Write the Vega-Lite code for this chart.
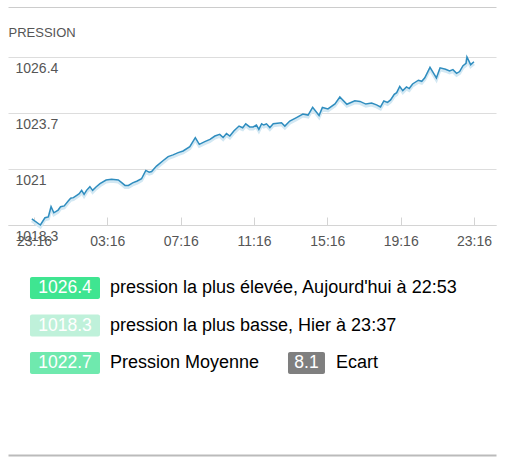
{
  "$schema": "https://vega.github.io/schema/vega-lite/v6.json",
  "background": "white",
  "padding": {"top": 7, "left": 8, "right": 16, "bottom": 5},
  "config": {"font": "Liberation Sans", "view": {"stroke": null}},
  "datasets": {
    "pressure": [
      {"time": "2024-01-10T23:09", "value": 1018.60},
      {"time": "2024-01-10T23:37", "value": 1018.30},
      {"time": "2024-01-10T23:52", "value": 1018.65},
      {"time": "2024-01-11T00:03", "value": 1018.69},
      {"time": "2024-01-11T00:12", "value": 1019.18},
      {"time": "2024-01-11T00:21", "value": 1018.89},
      {"time": "2024-01-11T00:35", "value": 1019.02},
      {"time": "2024-01-11T00:43", "value": 1019.18},
      {"time": "2024-01-11T00:55", "value": 1019.22},
      {"time": "2024-01-11T01:08", "value": 1019.46},
      {"time": "2024-01-11T01:16", "value": 1019.59},
      {"time": "2024-01-11T01:25", "value": 1019.62},
      {"time": "2024-01-11T01:36", "value": 1019.73},
      {"time": "2024-01-11T01:44", "value": 1019.81},
      {"time": "2024-01-11T01:52", "value": 1019.97},
      {"time": "2024-01-11T02:00", "value": 1019.78},
      {"time": "2024-01-11T02:08", "value": 1019.97},
      {"time": "2024-01-11T02:19", "value": 1020.15},
      {"time": "2024-01-11T02:28", "value": 1019.97},
      {"time": "2024-01-11T02:39", "value": 1020.13},
      {"time": "2024-01-11T02:52", "value": 1020.29},
      {"time": "2024-01-11T03:12", "value": 1020.47},
      {"time": "2024-01-11T03:30", "value": 1020.50},
      {"time": "2024-01-11T03:52", "value": 1020.47},
      {"time": "2024-01-11T04:03", "value": 1020.34},
      {"time": "2024-01-11T04:14", "value": 1020.21},
      {"time": "2024-01-11T04:25", "value": 1020.21},
      {"time": "2024-01-11T04:39", "value": 1020.33},
      {"time": "2024-01-11T04:54", "value": 1020.42},
      {"time": "2024-01-11T05:08", "value": 1020.53},
      {"time": "2024-01-11T05:22", "value": 1020.93},
      {"time": "2024-01-11T05:33", "value": 1020.85},
      {"time": "2024-01-11T05:41", "value": 1020.88},
      {"time": "2024-01-11T05:57", "value": 1021.14},
      {"time": "2024-01-11T06:19", "value": 1021.41},
      {"time": "2024-01-11T06:35", "value": 1021.60},
      {"time": "2024-01-11T06:51", "value": 1021.68},
      {"time": "2024-01-11T07:08", "value": 1021.79},
      {"time": "2024-01-11T07:24", "value": 1021.87},
      {"time": "2024-01-11T07:46", "value": 1022.08},
      {"time": "2024-01-11T08:04", "value": 1022.51},
      {"time": "2024-01-11T08:17", "value": 1022.19},
      {"time": "2024-01-11T08:35", "value": 1022.32},
      {"time": "2024-01-11T08:52", "value": 1022.43},
      {"time": "2024-01-11T09:08", "value": 1022.59},
      {"time": "2024-01-11T09:24", "value": 1022.67},
      {"time": "2024-01-11T09:35", "value": 1022.52},
      {"time": "2024-01-11T09:46", "value": 1022.71},
      {"time": "2024-01-11T09:57", "value": 1022.59},
      {"time": "2024-01-11T10:10", "value": 1022.83},
      {"time": "2024-01-11T10:27", "value": 1023.07},
      {"time": "2024-01-11T10:39", "value": 1022.99},
      {"time": "2024-01-11T10:49", "value": 1023.18},
      {"time": "2024-01-11T11:02", "value": 1023.03},
      {"time": "2024-01-11T11:13", "value": 1023.03},
      {"time": "2024-01-11T11:24", "value": 1023.12},
      {"time": "2024-01-11T11:32", "value": 1022.91},
      {"time": "2024-01-11T11:41", "value": 1023.18},
      {"time": "2024-01-11T11:48", "value": 1023.12},
      {"time": "2024-01-11T11:57", "value": 1023.18},
      {"time": "2024-01-11T12:08", "value": 1023.00},
      {"time": "2024-01-11T12:19", "value": 1023.18},
      {"time": "2024-01-11T12:46", "value": 1023.23},
      {"time": "2024-01-11T12:57", "value": 1023.07},
      {"time": "2024-01-11T13:13", "value": 1023.31},
      {"time": "2024-01-11T13:35", "value": 1023.48},
      {"time": "2024-01-11T13:56", "value": 1023.65},
      {"time": "2024-01-11T14:13", "value": 1023.60},
      {"time": "2024-01-11T14:28", "value": 1023.97},
      {"time": "2024-01-11T14:49", "value": 1023.58},
      {"time": "2024-01-11T15:00", "value": 1023.97},
      {"time": "2024-01-11T15:18", "value": 1023.90},
      {"time": "2024-01-11T15:41", "value": 1024.14},
      {"time": "2024-01-11T15:57", "value": 1024.47},
      {"time": "2024-01-11T16:20", "value": 1024.12},
      {"time": "2024-01-11T16:46", "value": 1024.29},
      {"time": "2024-01-11T17:03", "value": 1024.26},
      {"time": "2024-01-11T17:22", "value": 1024.13},
      {"time": "2024-01-11T17:41", "value": 1024.18},
      {"time": "2024-01-11T17:57", "value": 1024.09},
      {"time": "2024-01-11T18:10", "value": 1023.99},
      {"time": "2024-01-11T18:21", "value": 1024.28},
      {"time": "2024-01-11T18:33", "value": 1024.21},
      {"time": "2024-01-11T18:43", "value": 1024.33},
      {"time": "2024-01-11T18:55", "value": 1024.60},
      {"time": "2024-01-11T19:03", "value": 1024.68},
      {"time": "2024-01-11T19:13", "value": 1024.98},
      {"time": "2024-01-11T19:23", "value": 1024.78},
      {"time": "2024-01-11T19:35", "value": 1024.96},
      {"time": "2024-01-11T19:44", "value": 1024.88},
      {"time": "2024-01-11T19:55", "value": 1025.10},
      {"time": "2024-01-11T20:14", "value": 1025.28},
      {"time": "2024-01-11T20:25", "value": 1025.23},
      {"time": "2024-01-11T20:35", "value": 1025.40},
      {"time": "2024-01-11T20:52", "value": 1025.90},
      {"time": "2024-01-11T21:03", "value": 1025.63},
      {"time": "2024-01-11T21:13", "value": 1025.39},
      {"time": "2024-01-11T21:25", "value": 1025.88},
      {"time": "2024-01-11T21:43", "value": 1025.81},
      {"time": "2024-01-11T21:56", "value": 1025.73},
      {"time": "2024-01-11T22:07", "value": 1025.79},
      {"time": "2024-01-11T22:19", "value": 1025.61},
      {"time": "2024-01-11T22:29", "value": 1025.70},
      {"time": "2024-01-11T22:40", "value": 1025.98},
      {"time": "2024-01-11T22:50", "value": 1026.09},
      {"time": "2024-01-11T22:53", "value": 1026.40},
      {"time": "2024-01-11T23:05", "value": 1026.03},
      {"time": "2024-01-11T23:16", "value": 1026.17}
    ],
    "stats": [
      {"row": 1, "col": 0, "kind": "max", "badge": "1026.4", "label": "pression la plus élevée, Aujourd'hui à 22:53"},
      {"row": 2, "col": 0, "kind": "min", "badge": "1018.3", "label": "pression la plus basse, Hier à 23:37"},
      {"row": 3, "col": 0, "kind": "avg", "badge": "1022.7", "label": "Pression Moyenne"},
      {"row": 3, "col": 1, "kind": "range", "badge": "8.1", "label": "Ecart"}
    ]
  },
  "spacing": 12,
  "vconcat": [
    {
      "width": 488,
      "height": 168,
      "data": {"name": "pressure"},
      "resolve": {"axis": {"x": "independent"}},
      "layer": [
        {
          "mark": {"type": "line", "color": "#d3e8f3", "strokeWidth": 3, "yOffset": 2},
          "encoding": {
            "x": {
              "field": "time", "type": "temporal",
              "scale": {"domain": [
                {"year": 2024, "month": 1, "date": 10, "hours": 21, "minutes": 51},
                {"year": 2024, "month": 1, "date": 12, "hours": 0, "minutes": 28}
              ]},
              "axis": {
                "orient": "top", "offset": 50, "labels": false, "ticks": false, "grid": false,
                "domain": true, "domainColor": "#cccccc", "domainWidth": 1,
                "title": "PRESSION", "titleX": 0, "titleY": 29, "titleAlign": "left",
                "titleBaseline": "alphabetic", "titleAnchor": "start", "titleFontSize": 13,
                "titleFontWeight": "normal", "titleColor": "#555555", "titleFont": "Liberation Sans"
              }
            },
            "y": {
              "field": "value", "type": "quantitative",
              "scale": {"domain": [1018.3, 1026.4], "nice": false, "zero": false},
              "axis": {
                "values": [1018.3, 1021, 1023.7, 1026.4], "format": ".1~f",
                "domain": false, "ticks": false, "grid": true, "gridColor": "#dddddd",
                "labelAlign": "left", "labelBaseline": "top", "labelPadding": -7, "labelOffset": 4,
                "labelFontSize": 14, "labelColor": "#555555", "title": null
              }
            }
          }
        },
        {
          "mark": {"type": "line", "color": "#2f8dbf", "strokeWidth": 1.5},
          "encoding": {
            "x": {
              "field": "time", "type": "temporal",
              "axis": {
                "orient": "bottom", "format": "%H:%M",
                "values": [
                  {"year": 2024, "month": 1, "date": 10, "hours": 23, "minutes": 16},
                  {"year": 2024, "month": 1, "date": 11, "hours": 3, "minutes": 16},
                  {"year": 2024, "month": 1, "date": 11, "hours": 7, "minutes": 16},
                  {"year": 2024, "month": 1, "date": 11, "hours": 11, "minutes": 16},
                  {"year": 2024, "month": 1, "date": 11, "hours": 15, "minutes": 16},
                  {"year": 2024, "month": 1, "date": 11, "hours": 19, "minutes": 16},
                  {"year": 2024, "month": 1, "date": 11, "hours": 23, "minutes": 16}
                ],
                "domain": true, "domainColor": "#d4d4d4", "ticks": true, "tickSize": -8,
                "tickColor": "#d4d4d4", "grid": false, "labelPadding": 17, "labelFontSize": 14,
                "labelColor": "#555555", "labelOverlap": false, "labelFlush": false, "title": null
              }
            },
            "y": {"field": "value", "type": "quantitative"}
          }
        }
      ]
    },
    {
      "width": 488,
      "height": 195,
      "data": {"name": "stats"},
      "encoding": {
        "x": {
          "field": "col", "type": "quantitative",
          "scale": {"domain": [-0.236, 1.7847], "nice": false, "zero": false},
          "axis": {"orient": "bottom", "labels": false, "ticks": false, "grid": false, "domain": true,
                   "domainColor": "#bbbbbb", "domainWidth": 2, "title": null}
        },
        "y": {
          "field": "row", "type": "quantitative",
          "scale": {"domain": [0.2533, 5.4533], "nice": false, "zero": false, "reverse": true},
          "axis": null
        }
      },
      "layer": [
        {
          "transform": [{"filter": "datum.col == 0"}],
          "mark": {"type": "rect", "width": 70, "height": 22, "cornerRadius": 2},
          "encoding": {
            "color": {"field": "kind", "type": "nominal", "legend": null,
                      "scale": {"domain": ["max", "min", "avg", "range"], "range": ["#3fe591", "#bff1da", "#6fe9ae", "#7f7f7f"]}}
          }
        },
        {
          "transform": [{"filter": "datum.col == 1"}],
          "mark": {"type": "rect", "width": 37, "height": 22, "cornerRadius": 2},
          "encoding": {
            "color": {"field": "kind", "type": "nominal", "legend": null}
          }
        },
        {
          "mark": {"type": "text", "color": "white", "fontSize": 17.5, "align": "center", "baseline": "middle"},
          "encoding": {"text": {"field": "badge"}}
        },
        {
          "transform": [{"filter": "datum.col == 0"}],
          "mark": {"type": "text", "color": "black", "fontSize": 18, "align": "left", "baseline": "middle", "dx": 45},
          "encoding": {"text": {"field": "label"}}
        },
        {
          "transform": [{"filter": "datum.col == 1"}],
          "mark": {"type": "text", "color": "black", "fontSize": 18, "align": "left", "baseline": "middle", "dx": 29.5},
          "encoding": {"text": {"field": "label"}}
        }
      ]
    }
  ]
}
